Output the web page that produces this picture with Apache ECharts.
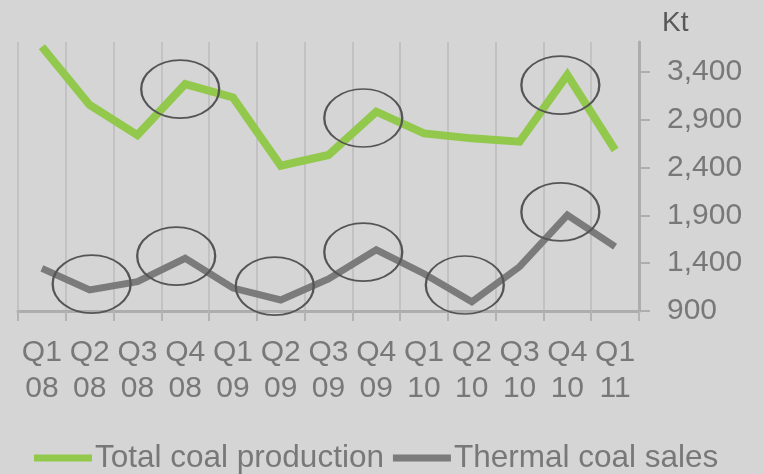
<!DOCTYPE html>
<html><head><meta charset="utf-8">
<script src="https://cdn.jsdelivr.net/npm/echarts@6/dist/echarts.min.js"></script>
<style>html,body{margin:0;padding:0;background:#d5d5d5}#c{width:763px;height:474px}</style>
</head><body><div id="c"></div>
<script>
// ---- data ----
const categories = ['Q1 08','Q2 08','Q3 08','Q4 08','Q1 09','Q2 09','Q3 09','Q4 09','Q1 10','Q2 10','Q3 10','Q4 10','Q1 11'];
const totalCoalProduction = [3665,3055,2741,3274,3135,2420,2532,2985,2758,2706,2671,3369,2584];
const thermalCoalSales = [1346,1120,1207,1451,1140,1015,1235,1540,1290,997,1363,1904,1573];
const yTicks = [900,1400,1900,2400,2900,3400];
// highlight ellipses: [category index, value at ellipse centre]
const productionHighlights = [[3,3222],[7,2919],[11,3264]];
const salesHighlights = [[1,1182],[3,1475],[5,1161],[7,1517],[9,1172],[11,1936]];

// ---- style ----
const FONT = '"Liberation Sans", Arial, sans-serif';
const GREEN = '#92c94c', GREY = '#7b7b7b', TEXT = '#787878';
const prodOffsets = [-5,-13,-7];
const salesOffsets = [2,-9,-6,-13,-7,-7];
const ellipseStyle = {color:'rgba(0,0,0,0)', borderColor:'#555555', borderWidth:2};

function marks(list, offs){
  return list.map((d,i)=>({coord:[d[0], d[1]], symbolOffset:[offs[i],0]}));
}

const chart = echarts.init(document.getElementById('c'), null, {renderer:'canvas'});
chart.setOption({
  backgroundColor:'#d5d5d5',
  animation:false,
  textStyle:{fontFamily:FONT},
  title:{text:'Kt', left:662, top:9, padding:0,
    textStyle:{fontFamily:FONT, fontSize:28, fontWeight:'normal', color:'#595959'}},
  legend:{
    left:34, top:442, padding:0, itemGap:9, itemWidth:58, itemHeight:7, icon:'rect',
    textStyle:{fontFamily:FONT, fontSize:31.5, color:TEXT, padding:[0,0,0,-2]},
    data:[{name:'Total coal production', itemStyle:{color:GREEN}},
          {name:'Thermal coal sales', itemStyle:{color:GREY}}]
  },
  grid:{left:18, right:124, top:42, bottom:163, containLabel:false},
  xAxis:{
    type:'category', data:categories, boundaryGap:true,
    axisLine:{lineStyle:{color:'#adadad', width:3}},
    axisTick:{show:true, length:10, lineStyle:{color:'#b3b3b3', width:2}},
    splitLine:{show:true, lineStyle:{color:'#c2c2c2', width:2}},
    axisLabel:{interval:0, fontFamily:FONT, fontSize:30, lineHeight:36, color:TEXT, margin:24,
      formatter:v=>v.replace(' ','\n')}
  },
  yAxis:{
    type:'value', position:'right', min:900, max:3714, interval:500,
    axisLine:{show:true, lineStyle:{color:'#adadad', width:3}},
    axisTick:{show:true, length:11, customValues:yTicks, lineStyle:{color:'#adadad', width:2}},
    splitLine:{show:false},
    axisLabel:{customValues:yTicks, fontFamily:FONT, fontSize:30, color:TEXT, margin:28,
      formatter:v=>Number(v).toLocaleString('en-US')}
  },
  series:[
    {name:'Total coal production', type:'line', data:totalCoalProduction, symbol:'none',
     lineStyle:{color:GREEN, width:8, join:'miter'}, itemStyle:{color:GREEN}, z:3,
     markPoint:{symbol:'circle', symbolSize:[78,58], silent:true, label:{show:false},
       itemStyle:ellipseStyle, data:marks(productionHighlights, prodOffsets)}},
    {name:'Thermal coal sales', type:'line', data:thermalCoalSales, symbol:'none',
     lineStyle:{color:GREY, width:7, join:'miter'}, itemStyle:{color:GREY}, z:2,
     markPoint:{symbol:'circle', symbolSize:[78,58], silent:true, label:{show:false},
       itemStyle:ellipseStyle, data:marks(salesHighlights, salesOffsets)}}
  ]
});
</script>
</body></html>
